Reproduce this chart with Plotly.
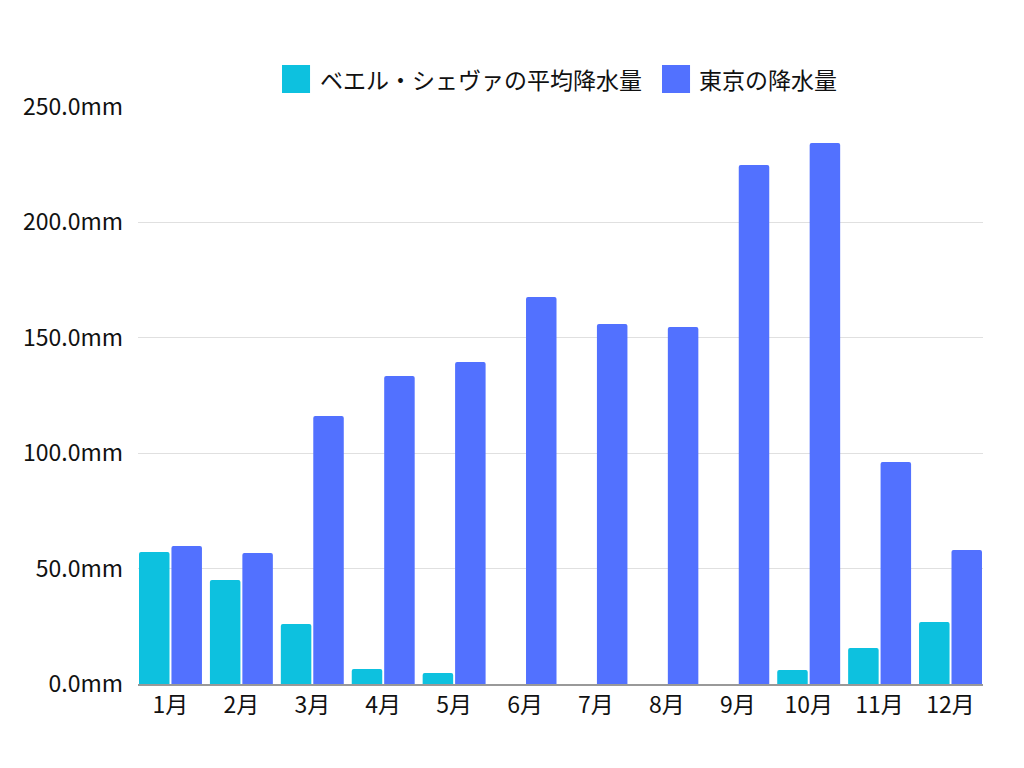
import plotly.graph_objects as go

months = ["1月", "2月", "3月", "4月", "5月", "6月", "7月", "8月", "9月", "10月", "11月", "12月"]
bellshevah = [57.2, 45.1, 26.0, 6.5, 4.8, 0, 0, 0, 0, 6.1, 15.6, 26.9]
tokyo = [59.8, 56.8, 116.1, 133.4, 139.5, 167.7, 156.0, 154.7, 224.9, 234.4, 96.2, 58.1]

name_a = "ベエル・シェヴァの平均降水量"
name_b = "東京の降水量"
color_a = "#0dc1df"
color_b = "#5271ff"

font_family = "Noto Sans CJK JP"

fig = go.Figure()
fig.add_trace(go.Bar(x=months, y=bellshevah, name=name_a,
                     marker=dict(color=color_a, line=dict(width=0))))
fig.add_trace(go.Bar(x=months, y=tokyo, name=name_b,
                     marker=dict(color=color_b, line=dict(width=0))))

# legend drawn by hand so the colour squares can be big
legend_items = [(0.1704, 0.2036, 0.2130, color_a, name_a),
                (0.6201, 0.6533, 0.6615, color_b, name_b)]
for x0, x1, xt, col, label in legend_items:
    fig.add_shape(type="rect", xref="paper", yref="paper",
                  x0=x0, x1=x1, y0=1.0243, y1=1.0728,
                  fillcolor=col, line=dict(width=0))
    fig.add_annotation(xref="paper", yref="paper", x=xt, y=1.0485,
                       xanchor="left", yanchor="middle", text=label,
                       showarrow=False, font=dict(size=23, color="#111111"))

# bars run flush to both ends of the axis
edge = 0.042

fig.update_layout(
    width=1024, height=768,
    paper_bgcolor="white", plot_bgcolor="white",
    font=dict(family=font_family, size=23, color="#111111"),
    margin=dict(l=130, r=49, t=99, b=92),
    barmode="group", bargap=0.085, bargroupgap=0.06, barcornerradius=2,
    showlegend=False,
    xaxis=dict(showline=True, linecolor="#999999", linewidth=1.5, ticks="",
               showgrid=False, range=[-0.5 + edge, 11.5 - edge]),
    yaxis=dict(range=[0, 250], tickvals=[0, 50, 100, 150, 200, 250],
               ticktext=["0.0mm", "50.0mm", "100.0mm", "150.0mm", "200.0mm", "250.0mm"],
               showgrid=True, gridcolor="#e0e0e0", gridwidth=1, zeroline=False,
               ticks="", ticklabelstandoff=14),
)

fig.write_html("out.html")
